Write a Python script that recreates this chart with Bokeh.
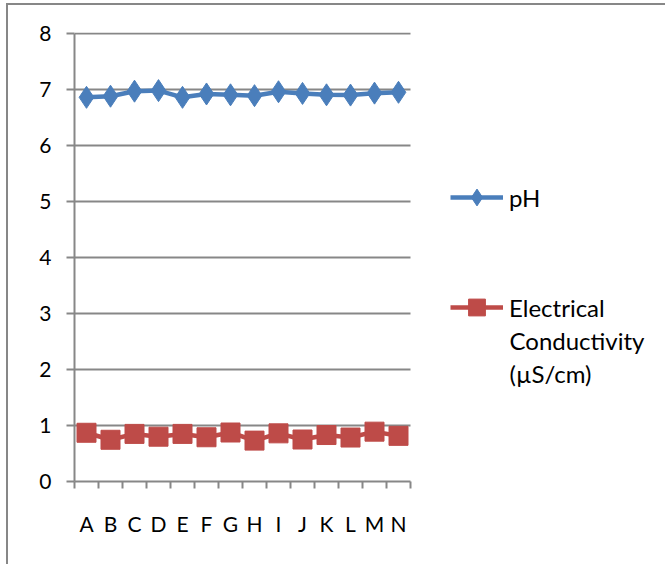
from bokeh.plotting import figure
from bokeh.models import Range1d, FixedTicker, Legend, LegendItem, Label
from bokeh.embed import file_html
from bokeh.resources import INLINE

categories = ["A", "B", "C", "D", "E", "F", "G", "H", "I", "J", "K", "L", "M", "N"]
ph_values = [6.86, 6.88, 6.97, 6.98, 6.86, 6.92, 6.905, 6.89, 6.96, 6.93, 6.905, 6.90, 6.935, 6.95]
ec_values = [0.87, 0.745, 0.85, 0.80, 0.85, 0.79, 0.875, 0.73, 0.86, 0.75, 0.83, 0.785, 0.89, 0.815]
y_ticks = [0, 1, 2, 3, 4, 5, 6, 7, 8]
legend_lines = ["pH", "Electrical", "Conductivity", "(µS/cm)"]

FONT = "Lato"
GRAY = "#878787"
BLUE = "#4a7ebb"
RED = "#be4b48"

n = len(categories)
xs = [i + 0.5 for i in range(n)]

# layout (pixels): category width 24 px, value unit 56 px
W, H = 659, 561
LEFT, TOP, BOTTOM = 66, 27, 85
frame_w = W - LEFT
frame_h = H - TOP - BOTTOM

p = figure(width=W, height=H, output_backend="svg", toolbar_location=None,
           x_range=Range1d(0, frame_w / 24.0), y_range=Range1d(0, frame_h / 56.0),
           min_border_left=LEFT, min_border_right=0, min_border_top=TOP, min_border_bottom=BOTTOM)
p.outline_line_color = None
p.background_fill_color = "white"
p.border_fill_color = "white"
p.grid.visible = False
# outer chart border: only its top and left edges fall inside the window
p.styles = {"border-top": "2px solid #878787", "border-left": "2px solid #878787",
            "margin-left": "6px", "margin-top": "3px"}

# horizontal gridlines, limited to the category span
gy = y_ticks[1:]
p.segment(x0=[0] * len(gy), x1=[n] * len(gy), y0=gy, y1=gy,
          line_color=GRAY, line_width=2, level="underlay")

# y axis
ya = p.yaxis[0]
ya.ticker = FixedTicker(ticks=y_ticks)
ya.axis_line_color = GRAY
ya.axis_line_width = 2
ya.major_tick_line_color = GRAY
ya.major_tick_line_width = 2
ya.major_tick_out = 8
ya.major_tick_in = 0
ya.minor_tick_line_color = None
ya.major_label_text_font = FONT
ya.major_label_text_font_size = "21px"
ya.major_label_text_color = "black"
ya.major_label_standoff = 15
ya.bounds = (0, 8)

# x axis
xa = p.xaxis[0]
xa.ticker = FixedTicker(ticks=xs, minor_ticks=list(range(n + 1)))
xa.major_label_overrides = {x: c for x, c in zip(xs, categories)}
xa.bounds = (0, n)
xa.axis_line_color = GRAY
xa.axis_line_width = 2
xa.major_tick_line_color = None
xa.major_tick_out = 0
xa.major_tick_in = 0
xa.minor_tick_line_color = GRAY
xa.minor_tick_line_width = 2
xa.minor_tick_out = 7
xa.minor_tick_in = 0
xa.major_label_text_font = FONT
xa.major_label_text_font_size = "21px"
xa.major_label_text_color = "black"
xa.major_label_standoff = 22

# series
ph_line = p.line(xs, ph_values, line_color=BLUE, line_width=4.5)
ph_pts = p.scatter(xs, ph_values, marker="diamond", size=22, fill_color=BLUE, line_color=BLUE)
ec_line = p.line(xs, ec_values, line_color=RED, line_width=4.5)
ec_pts = p.scatter(xs, ec_values, marker="square", size=19, fill_color=RED, line_color=RED)

legend = Legend(items=[LegendItem(label=legend_lines[0], renderers=[ph_line, ph_pts]),
                       LegendItem(label=legend_lines[1], renderers=[ec_line, ec_pts])],
                location=(376, 153), padding=0, margin=0, spacing=68,
                glyph_width=53, glyph_height=42, label_height=42, label_standoff=6,
                border_line_color=None, background_fill_alpha=0,
                label_text_font=FONT, label_text_font_size="24px", label_text_color="black")
p.add_layout(legend)

for txt, yy in [(legend_lines[2], 141), (legend_lines[3], 108)]:
    p.add_layout(Label(x=435, y=yy, x_units="screen", y_units="screen", text=txt,
                       text_baseline="middle", text_align="left", text_font=FONT,
                       text_font_size="24px", text_color="black"))

open("out.html", "w").write(file_html(p, INLINE))
